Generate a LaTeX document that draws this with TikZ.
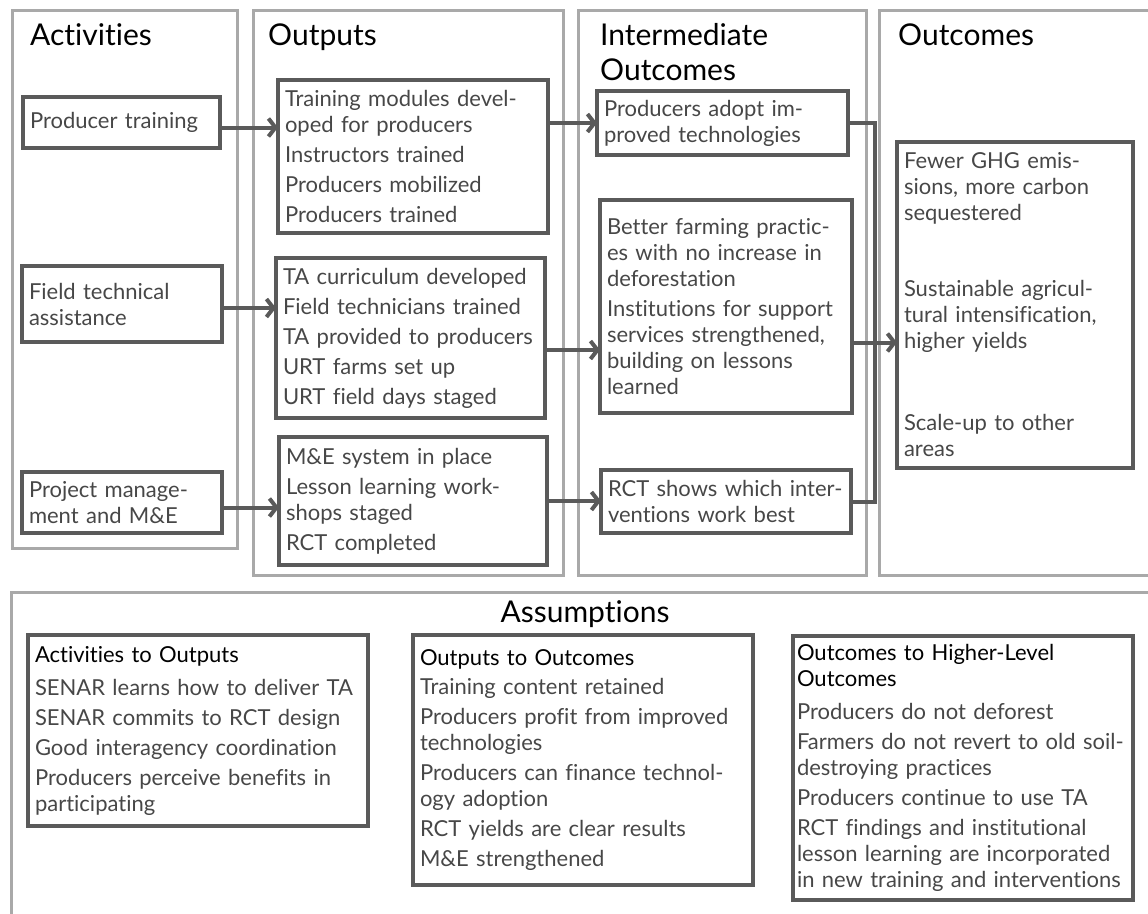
\documentclass[tikz,border=0pt]{standalone}
\usepackage{fontspec}
\setmainfont{Lato}[Ligatures=NoCommon]
\usetikzlibrary{arrows.meta}

\definecolor{framegray}{HTML}{A9A9A9}
\definecolor{boxgray}{HTML}{5A5A5A}
\definecolor{bodytext}{HTML}{474747}

\newcommand{\bodysize}{\fontsize{22}{26}\selectfont}
\newcommand{\titlesize}{\fontsize{30}{35}\selectfont}
\newcommand{\gap}{\\[4pt]}
\newcommand{\headline}[1]{\textcolor{black}{#1}}

\begin{document}
\begin{tikzpicture}[x=1pt, y=-1pt,
  frame/.style={draw=framegray, line width=3pt},
  title/.style={anchor=base west, inner sep=0pt, font=\titlesize},
  box/.style={draw=boxgray, line width=4pt, anchor=north west, outer sep=0pt,
    inner xsep=7pt, inner ysep=0pt, align=left, text=bodytext, font=\bodysize},
  flow/.style={draw=boxgray, line width=4pt, -{Straight Barb[length=7pt,width=18pt]}},
  link/.style={draw=boxgray, line width=4pt}]

\useasboundingbox (0,0) rectangle (1148,913);

% column frames
\draw[frame] (12,10) rectangle (237,548);
\draw[frame] (253,10) rectangle (563,575);
\draw[frame] (578,10) rectangle (866,575);
\draw[frame] (879,10) rectangle (1160,575);
\draw[frame] (11,592) rectangle (1160,930);

% column titles
\node[title] (act) at (30,45) {Activities};
\node[title] (outp) at (268,45) {Outputs};
\node[title, anchor=north west, align=left] (inter) at (600,23) {Intermediate\\Outcomes};
\node[title] (outc) at (898,45) {Outcomes};
\node[title, anchor=base] (asm) at (585,622) {Assumptions};

% activities
\node[box, minimum width=197, minimum height=51, text width=183] (a1) at (23,97) {Producer training};
\node[box, minimum width=200, minimum height=76, text width=186] (a2) at (22,266) {Field technical\\assistance};
\node[box, minimum width=200, minimum height=61, text width=186] (a3) at (22,472) {Project manage-\\ment and M\&E};

% outputs
\node[box, minimum width=270, minimum height=153, text width=256] (o1) at (278,80)
  {Training modules devel-\\oped for producers\gap Instructors trained\gap
   Producers mobilized\gap Producers trained};
\node[box, minimum width=269, minimum height=160, text width=255] (o2) at (276,258)
  {TA curriculum developed\gap Field technicians trained\gap TA provided to producers\gap
   URT farms set up\gap URT field days staged};
\node[box, minimum width=268, minimum height=128, text width=254] (o3) at (279,437)
  {M\&E system in place\gap Lesson learning work-\\shops staged\gap RCT completed};

% intermediate outcomes
\node[box, minimum width=251, minimum height=64, text width=237] (i1) at (597,91)
  {Producers adopt im-\\proved technologies};
\node[box, minimum width=252, minimum height=213, text width=238] (i2) at (600,200)
  {Better farming practic-\\es with no increase in\\deforestation\gap
   Institutions for support\\services strengthened,\\building on lessons\\learned};
\node[box, minimum width=250, minimum height=63, text width=236] (i3) at (601,470)
  {RCT shows which inter-\\ventions work best};

% outcomes
\node[box, minimum width=236, minimum height=326, text width=222] (f1) at (897,142)
  {Fewer GHG emis-\\sions, more carbon\\sequestered\\[50pt]
   Sustainable agricul-\\tural intensification,\\higher yields\\[56pt]
   Scale-up to other\\areas};

% assumptions
\node[box, minimum width=340, minimum height=191, text width=326] (s1) at (28,635)
  {\headline{Activities to Outputs}\\[7pt]SENAR learns how to deliver TA\gap
   SENAR commits to RCT design\gap Good interagency coordination\gap
   Producers perceive benefits in\\participating};
\node[box, minimum width=340, minimum height=250, text width=326] (s2) at (413,635)
  {\headline{Outputs to Outcomes}\\[3pt]Training content retained\gap
   Producers profit from improved\\technologies\gap
   Producers can finance technol-\\ogy adoption\gap
   RCT yields are clear results\gap M\&E strengthened};
\node[box, inner xsep=4pt, minimum width=340, minimum height=264, text width=332] (s3) at (793,636)
  {\headline{Outcomes to Higher-Level}\\\headline{Outcomes}\\[7pt]Producers do not deforest\gap
   \mbox{Farmers do not revert to old soil-}\\destroying practices\gap
   Producers continue to use TA\gap
   RCT findings and institutional\\lesson learning are incorporated\\in new training and interventions};

% connectors
\draw[flow] ([yshift=-5pt]a1.east) -- ([yshift=-5pt]a1.east -| o1.west);
\draw[flow] ([yshift=-4pt]a2.east) -- ([yshift=-4pt]a2.east -| o2.west);
\draw[flow] ([yshift=-5pt]a3.east) -- ([yshift=-5pt]a3.east -| o3.west);
\draw[flow] (o1.east |- i1.west) -- (i1.west);
\draw[flow] ([yshift=-12pt]o2.east) -- ([yshift=-12pt]o2.east -| i2.west);
\draw[flow] (o3.east) -- (o3.east -| i3.west);
\coordinate (bus) at (875,0);
\draw[link] (i1.east) -| (bus |- i3.east) -- (i3.east);
\draw[flow] ([yshift=-36pt]i2.east) -- ([yshift=-36pt]i2.east -| f1.west);
\end{tikzpicture}
\end{document}
